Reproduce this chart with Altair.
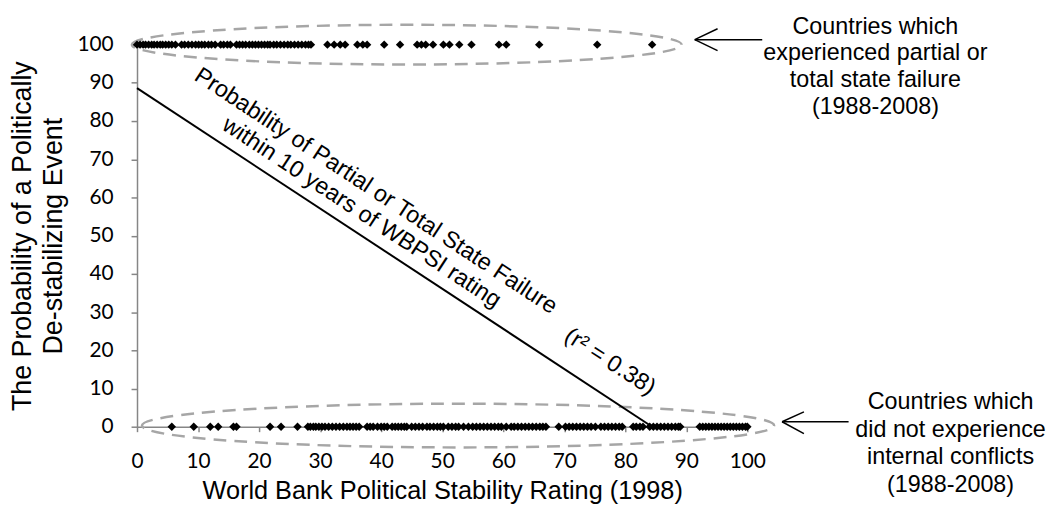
import altair as alt
import pandas as pd

# ---- data ----
failed_ratings = [0.0, 0.5, 1.0, 1.4, 1.9, 2.4, 2.8, 3.3, 3.8, 4.2, 4.7, 5.2, 5.7, 6.3,
                  7.3, 7.8, 8.4, 9.0, 9.6, 10.1, 10.6, 11.1, 11.7, 12.2, 12.8, 13.7,
                  14.2, 14.8, 15.3, 16.3, 16.8, 17.3, 17.8, 18.4, 18.9, 19.4, 19.9,
                  20.4, 20.9, 21.4, 21.8, 22.4, 22.9, 23.5, 24.1, 24.7, 25.2, 25.8,
                  26.4, 27.0, 27.6, 28.1, 28.5, 31.2, 32.3, 33.3, 34.1, 36.1, 37.0,
                  37.7, 40.5, 43.1, 45.9, 46.6, 47.3, 48.5, 50.2, 51.2, 52.8, 54.8,
                  59.3, 60.5, 65.9, 75.4, 84.4]
stable_ratings = [5.7, 9.3, 12.0, 13.3, 15.8, 16.3, 21.8, 23.6, 26.3, 28.0, 28.4, 28.9,
                  29.3, 29.8, 30.3, 30.8, 31.4, 32.0, 32.6, 33.2, 33.8, 34.4, 34.9,
                  35.4, 35.9, 36.4, 37.7, 38.2, 38.7, 39.4, 40.0, 40.5, 41.0, 41.8,
                  42.3, 42.8, 43.3, 43.8, 44.2, 45.0, 45.6, 46.2, 46.8, 47.5, 48.0,
                  48.6, 49.2, 49.7, 50.2, 51.0, 51.6, 52.2, 52.7, 53.5, 54.3, 55.0,
                  55.6, 56.2, 56.8, 57.4, 58.0, 58.6, 59.2, 59.7, 60.5, 61.3, 61.8,
                  62.4, 63.0, 63.6, 64.2, 64.8, 65.4, 66.0, 66.5, 67.0, 69.1, 70.2,
                  70.8, 71.4, 72.0, 72.6, 73.2, 73.8, 74.4, 75.1, 76.0, 76.6, 77.2,
                  77.8, 78.4, 79.0, 79.5, 81.3, 81.8, 82.4, 82.9, 84.0, 84.6, 85.2,
                  85.8, 86.4, 87.0, 87.6, 88.2, 88.7, 89.0, 92.2, 92.7, 93.2, 93.7,
                  94.2, 94.7, 95.2, 95.7, 96.2, 96.7, 97.2, 97.7, 98.2, 98.7, 99.2,
                  99.7, 100.0]
failed_prob = 100
stable_prob = 0
fit_x = [0.0, 84.4]
fit_y = [88.6, 0.0]
x_ticks = [0, 10, 20, 30, 40, 50, 60, 70, 80, 90, 100]
y_ticks = [0, 10, 20, 30, 40, 50, 60, 70, 80, 90, 100]

fit_label = "Probability of Partial or Total State Failure\nwithin 10 years of WBPSI rating"
r2_label = "(r² = 0.38)"
top_note = "Countries which\nexperienced partial or\ntotal state failure\n(1988-2008)"
bottom_note = "Countries which\ndid not experience\ninternal conflicts\n(1988-2008)"
x_title = "World Bank Political Stability Rating (1998)"
y_title = ["The Probability of a Politically", "De-stabilizing Event"]

# ---- tables ----
points = pd.DataFrame({
    "x": failed_ratings + stable_ratings,
    "y": [failed_prob] * len(failed_ratings) + [stable_prob] * len(stable_ratings),
})
fit = pd.DataFrame({"x": fit_x, "y": fit_y})

GRAY = "#868686"
xscale = alt.Scale(domain=[0, 100], nice=False, zero=False)
yscale = alt.Scale(domain=[0, 100], nice=False, zero=False)
xaxis = alt.Axis(values=x_ticks, title=x_title, grid=False, format="d",
                 domainColor=GRAY, domainWidth=1.5, tickColor=GRAY, tickWidth=1.5,
                 tickSize=5, labelFont="Lato", labelFontSize=21, labelColor="black",
                 labelPadding=19, labelFlush=False, labelOverlap=False,
                 titleFont="Liberation Sans", titleFontSize=25.5, titleFontWeight="normal",
                 titleColor="black", titlePadding=7)
yaxis = alt.Axis(values=y_ticks, title=y_title, grid=False, format="d",
                 domainColor=GRAY, domainWidth=1.5, tickColor=GRAY, tickWidth=1.5,
                 tickSize=6, labelFont="Lato", labelFontSize=21, labelColor="black",
                 labelPadding=18, labelFlush=False, labelOverlap=False,
                 titleFont="Liberation Sans", titleFontSize=27, titleFontWeight="normal",
                 titleColor="black", titlePadding=10, titleLineHeight=31)


def X(f="x"):
    return alt.X(f"{f}:Q", scale=xscale, axis=xaxis)


def Y(f="y"):
    return alt.Y(f"{f}:Q", scale=yscale, axis=yaxis)


# dashed ellipses around the two rows (custom symbol path)
def ellipse(cx, cy, half_w, half_h):
    ratio = half_h / half_w
    path = f"M -1 0 A 1 {ratio:.4f} 0 1 1 1 0 A 1 {ratio:.4f} 0 1 1 -1 0 Z"
    return alt.Chart(pd.DataFrame({"x": [cx], "y": [cy]})).mark_point(
        shape=path, size=(2 * half_w) ** 2, filled=False, stroke="#a6a6a6",
        strokeWidth=2.5, strokeDash=[13, 8], opacity=1
    ).encode(x=X(), y=Y())


ell_top = ellipse(44.2, 100, 277, 20)
ell_bot = ellipse(52.6, 0.3, 318.5, 22)

pts = alt.Chart(points).mark_point(
    shape="diamond", filled=True, size=72, color="black", opacity=1
).encode(x=X(), y=Y())

line = alt.Chart(fit).mark_line(color="black", strokeWidth=2).encode(x=X(), y=Y())


def text(t, x, y, angle=0, size=23.5, lh=26):
    # anchor is the centre of the first line
    return alt.Chart(pd.DataFrame({"x": [x], "y": [y], "t": [t]})).mark_text(
        font="Liberation Sans", fontSize=size, color="black", angle=angle,
        align="center", baseline="middle", lineBreak="\n", lineHeight=lh
    ).encode(x=X(), y=Y(), text="t:N")


t_fit = text(fit_label, 39.12, 61.66, angle=33.3, lh=26)
t_r2 = text(r2_label, 77.5, 17.0, angle=33)
t_top = text(top_note, 120.98, 104.68, lh=27)
t_bot = text(bottom_note, 133.3, 6.49, lh=28)

arrows = pd.DataFrame({
    "x": [91.38, 91.38, 91.38, 105.69, 105.69, 105.69],
    "y": [101.3, 101.3, 101.3, 1.3, 1.3, 1.3],
    "x2": [102.44, 95.12, 95.12, 116.59, 109.27, 109.27],
    "y2": [101.3, 104.16, 98.44, 1.3, 3.9, -1.82],
})
arr = alt.Chart(arrows).mark_rule(color="black", strokeWidth=1.5).encode(
    x=X(), y=Y(), x2="x2:Q", y2="y2:Q"
)

chart = alt.layer(ell_top, ell_bot, pts, line, t_fit, t_r2, t_top, t_bot, arr).properties(
    width=615, height=385,
    autosize=alt.AutoSizeParams(type="none"),
    padding={"left": 130, "top": 35, "right": 308, "bottom": 80},
).configure_view(stroke=None)

chart.save("out.html", embed_options={"renderer": "svg", "actions": False})
